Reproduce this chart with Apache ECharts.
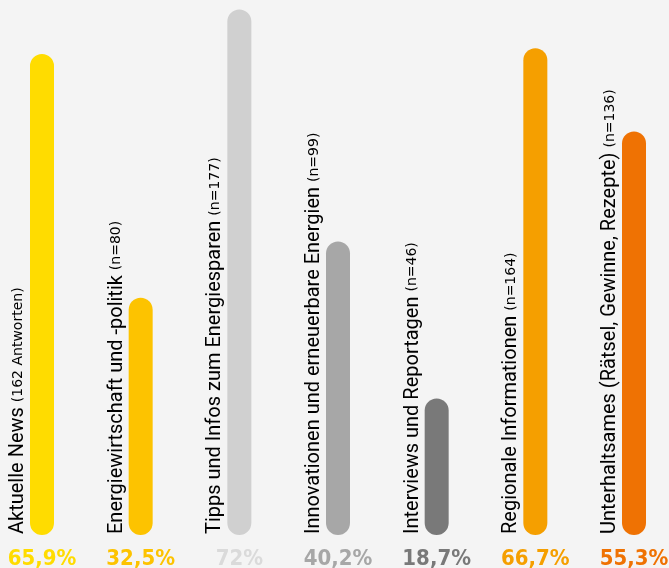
<!DOCTYPE html>
<html>
<head>
<meta charset="utf-8">
<script src="https://cdn.jsdelivr.net/npm/echarts@6/dist/echarts.min.js"></script>
<style>
html,body{margin:0;padding:0;background:#f4f4f4;}
#chart{width:669px;height:568px;}
</style>
</head>
<body>
<div id="chart"></div>
<script>
// Themen und Anteile
var themen = [
  'Aktuelle News',
  'Energiewirtschaft und -politik',
  'Tipps und Infos zum Energiesparen',
  'Innovationen und erneuerbare Energien',
  'Interviews und Reportagen',
  'Regionale Informationen',
  'Unterhaltsames (Rätsel, Gewinne, Rezepte)'
];
var anzahl = ['(162 Antworten)', '(n=80)', '(n=177)', '(n=99)', '(n=46)', '(n=164)', '(n=136)'];
var werte = [65.9, 32.5, 72, 40.2, 18.7, 66.7, 55.3];
var wertText = ['65,9%', '32,5%', '72%', '40,2%', '18,7%', '66,7%', '55,3%'];
var farben = ['#ffdc00', '#fdc300', '#d0d0d0', '#a7a7a7', '#797979', '#f59f00', '#ef7203'];
var textFarben = ['#ffdc00', '#fdc300', '#dadada', '#a7a7a7', '#797979', '#f59f00', '#ef7203'];

var chart = echarts.init(document.getElementById('chart'));

var rich = {};
for (var i = 0; i < farben.length; i++) {
  rich['p' + i] = {
    color: textFarben[i],
    fontSize: 22,
    fontWeight: 'bold',
    fontFamily: 'DejaVu Sans Condensed',
    lineHeight: 24
  };
}

var option = {
  backgroundColor: '#f4f4f4',
  animation: false,
  grid: {
    top: 0,
    left: 42,
    right: 35,
    bottom: 33,
    outerBoundsMode: 'none'
  },
  xAxis: {
    type: 'category',
    data: themen,
    boundaryGap: false,
    axisLine: {show: false},
    axisTick: {show: false},
    axisLabel: {
      interval: 0,
      margin: 12,
      formatter: function (v, idx) {
        return '{p' + idx + '|' + wertText[idx] + '}';
      },
      rich: rich
    }
  },
  yAxis: {
    type: 'value',
    min: 0,
    max: 73.3,
    show: false
  },
  series: [
    {
      type: 'bar',
      barWidth: 24,
      data: werte.map(function (v, i) {
        return {value: v, itemStyle: {color: farben[i]}};
      }),
      itemStyle: {borderRadius: 12}
    },
    {
      // gedrehte Beschriftung links neben jedem Balken
      type: 'custom',
      data: werte.map(function (v, i) { return [i, 0]; }),
      renderItem: function (params, api) {
        var idx = params.dataIndex;
        var p = api.coord([api.value(0), 0]);
        return {
          type: 'text',
          x: p[0] - 12,
          y: p[1] - 1,
          rotation: Math.PI / 2,
          style: {
            text: '{a|' + themen[idx] + ' }{b|' + anzahl[idx] + '}',
            align: 'left',
            verticalAlign: 'bottom',
            rich: {
              a: {fontSize: 20, fontFamily: 'Roboto', color: '#161616', lineHeight: 24},
              b: {fontSize: 14, fontFamily: 'DejaVu Sans', color: '#161616', lineHeight: 24}
            }
          }
        };
      }
    }
  ]
};

chart.setOption(option);
window.addEventListener('resize', function () {
  chart.resize();
});
</script>
</body>
</html>
